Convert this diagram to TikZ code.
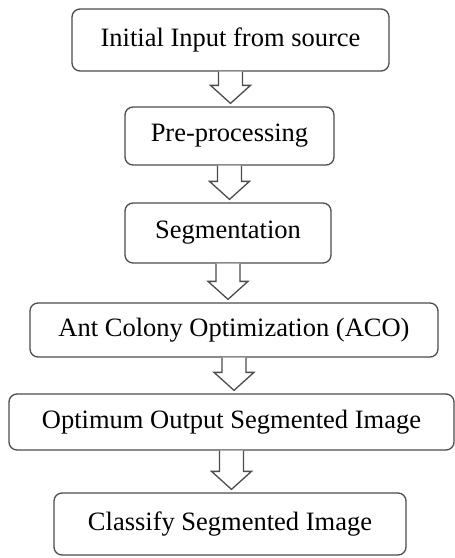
\documentclass[tikz,border=0pt]{standalone}
\usepackage{fontspec}
\setmainfont{Liberation Serif}
\usetikzlibrary{calc}
\tikzset{
  stagebox/.style={draw=black!70, line width=1.3pt, rounded corners=8pt, fill=white,
    inner sep=0pt, font=\fontsize{26.5}{30}\selectfont, text=black},
  blk/.style={draw=black!70, line width=1.3pt, fill=white, line join=miter}
}
\newcommand{\blockarrow}[2]{%
  \draw[blk] let \p1=(#1.south), \p2=(#2.north) in
    (\x1-12pt,\y1) -- (\x1-12pt,\y2+21pt) -- (\x1-20pt,\y2+21pt) -- (\x1,\y2+3pt)
    -- (\x1+20pt,\y2+21pt) -- (\x1+12pt,\y2+21pt) -- (\x1+12pt,\y1);
}
\begin{document}
\begin{tikzpicture}[x=1pt,y=1pt]
\useasboundingbox (0,0) rectangle (455,-558);
\node[stagebox, minimum width=317pt, minimum height=62pt] (b1) at (230.5,-40) {Initial Input from source};
\node[stagebox, minimum width=209pt, minimum height=58pt] (b2) at (229.5,-136) {Pre-processing};
\node[stagebox, minimum width=206pt, minimum height=60pt] (b3) at (228,-233) {Segmentation};
\node[stagebox, minimum width=408pt, minimum height=54pt] (b4) at (234,-330) {Ant Colony Optimization (ACO)};
\node[stagebox, minimum width=445pt, minimum height=56pt] (b5) at (231.5,-422) {Optimum Output Segmented Image};
\node[stagebox, minimum width=352pt, minimum height=62pt] (b6) at (230,-524) {Classify Segmented Image};
\blockarrow{b1}{b2}
\blockarrow{b2}{b3}
\blockarrow{b3}{b4}
\blockarrow{b4}{b5}
\blockarrow{b5}{b6}
\end{tikzpicture}
\end{document}
